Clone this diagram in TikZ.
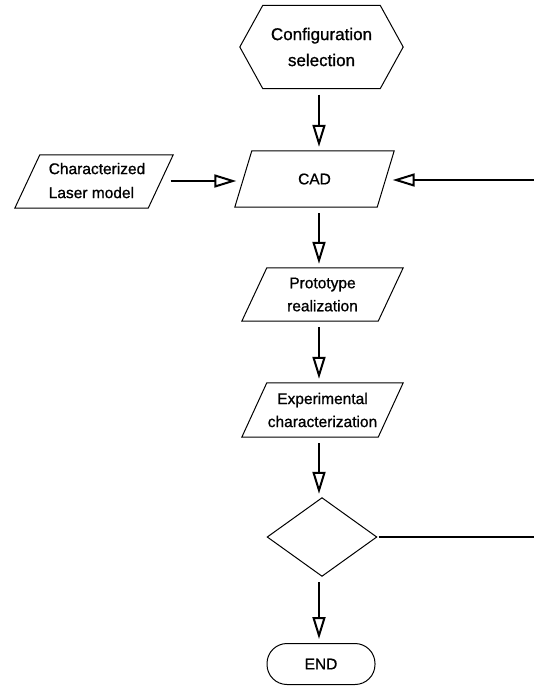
\documentclass[tikz,border=0pt]{standalone}
\usepackage{fontspec}
\setmainfont{Liberation Sans}
\newfontfamily\labfont[FakeBold=0.9]{Liberation Sans}
\usetikzlibrary{arrows.meta}
\newcommand\parashape[2]{\draw[shp] ([xshift=-#2/2]#1.south west) -- ([xshift=#2/2]#1.north west) -- ([xshift=#2/2]#1.north east) -- ([xshift=-#2/2]#1.south east) -- cycle;}
\begin{document}
\begin{tikzpicture}[x=1pt,y=-1pt,
  box/.style={draw=none, inner sep=0pt, align=center, font=\labfont\fontsize{15.5}{23}\selectfont},
  conn/.style={line width=1.2pt, -{Triangle[open,length=22pt,width=13pt,line width=2pt]}, shorten <=6pt, shorten >=4pt},
  shp/.style={line width=1pt}]
\useasboundingbox (0,0) rectangle (534,686);
\coordinate (spine) at (319,0);
\coordinate (hin) at (0,181);
\coordinate (rin) at (534,180);
\coordinate (rout) at (534,537);
% nodes
\node[box, font=\labfont\fontsize{17}{26}\selectfont, minimum width=163pt, minimum height=83pt] (hex) at (321.5,47) {Configuration\\selection};
\draw[shp] (hex.west) -- ([xshift=23pt]hex.north west) -- ([xshift=-23pt]hex.north east) -- (hex.east) -- ([xshift=-23pt]hex.south east) -- ([xshift=23pt]hex.south west) -- cycle;
\node[box, minimum width=142pt, minimum height=56pt] (cad) at (314.5,179) {CAD};
\parashape{cad}{17pt}
\node[box, minimum width=133pt, minimum height=53pt] (laser) at (94,181.5) {\hspace*{6pt}\begin{tabular}{@{}l@{}}Characterized\\[1pt]Laser model\end{tabular}};
\parashape{laser}{25pt}
\node[box, minimum width=136pt, minimum height=53pt] (proto) at (322.5,294.5) {Prototype\\realization};
\parashape{proto}{25pt}
\node[box, minimum width=136pt, minimum height=54pt] (exper) at (322.5,410) {Experimental\\characterization};
\parashape{exper}{25pt}
\node[box, minimum width=109pt, minimum height=78pt] (dec) at (322,537) {};
\draw[shp] (dec.west) -- (dec.north) -- (dec.east) -- (dec.south) -- cycle;
\node[box, draw, shp, rounded corners=20pt, minimum width=108pt, minimum height=41pt] (end) at (321,664) {END};
% connectors
\draw[conn] (hex.south -| spine) -- (cad.north -| spine);
\draw[conn] (cad.south -| spine) -- (proto.north -| spine);
\draw[conn] (proto.south -| spine) -- (exper.north -| spine);
\draw[conn] (exper.south -| spine) -- (dec.north -| spine);
\draw[conn] (dec.south -| spine) -- (end.north -| spine);
\draw[conn, shorten <=10pt, shorten >=7pt] (laser.east |- hin) -- (cad.west |- hin);
\draw[conn, shorten <=0pt, shorten >=7pt] (rin) -- (cad.east |- rin);
\draw[line width=1.2pt, shorten <=2pt] (dec.east) -- (rout);
\end{tikzpicture}
\end{document}
